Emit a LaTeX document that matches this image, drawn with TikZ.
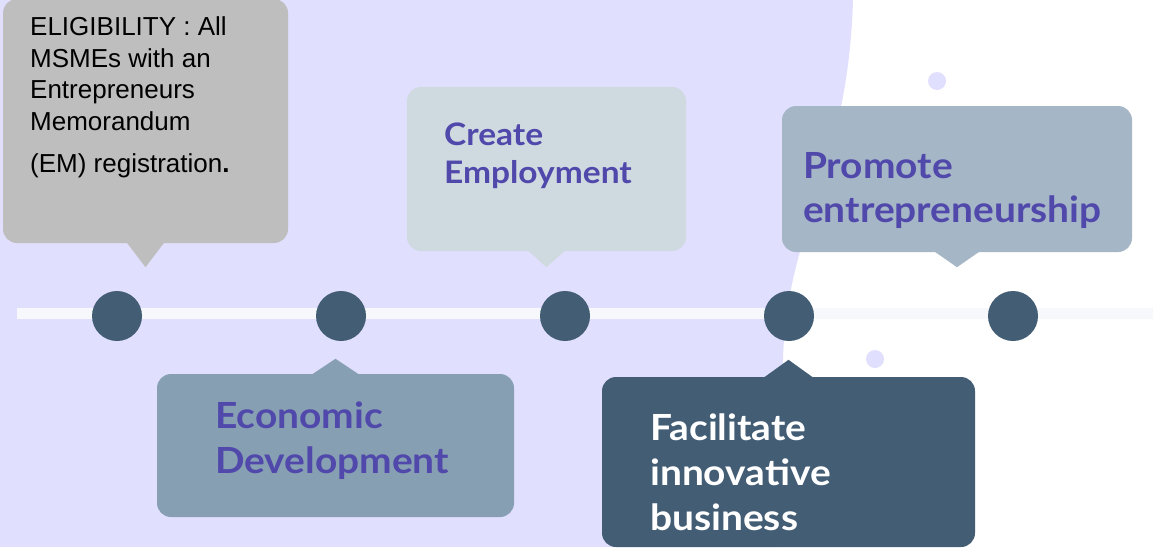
\documentclass[tikz,border=0pt]{standalone}
\usepackage{fontspec}
\setmainfont{Liberation Sans}
\newfontfamily\goalfont{Lato}[FakeStretch=1.08]
\usepackage{tikz}

\definecolor{blob}{HTML}{E0DFFE}
\definecolor{trackcol}{HTML}{F7F8FC}
\definecolor{dotcol}{HTML}{425D74}
\definecolor{goalcol}{HTML}{5048AA}
\definecolor{greybox}{HTML}{BEBEBE}
\definecolor{econbox}{HTML}{879FB3}
\definecolor{jobbox}{HTML}{CFD9E0}
\definecolor{innobox}{HTML}{435D75}
\definecolor{entrebox}{HTML}{A5B6C7}

\begin{document}
\begin{tikzpicture}[x=1pt, y=-1pt, every node/.style={inner sep=0pt},
    dot/.style={circle, fill=dotcol, minimum size=50pt},
    bubble/.style={circle, fill=blob, minimum size=18pt},
    card/.style={rounded corners=14pt, minimum width=#1},
    goal/.style={anchor=base west, align=left, text=goalcol, font=\goalfont\bfseries}]
    \useasboundingbox (0,0) rectangle (1153,547);
    \fill[white] (0,0) rectangle (1153,547);
    \fill[blob] (0,0) -- (853,0) .. controls (848,170) and (786,230) .. (783,360) -- (778,547) -- (0,547) -- cycle;

    % timeline
    \coordinate (start) at (17,313.5);
    \coordinate (end) at (1153,313.5);
    \draw[line width=11pt, trackcol] (start) -- (end);
    \node[bubble] (S1) at (937,81) {};
    \node[bubble] (S2) at (875,359) {};
    \foreach \i/\x in {1/117,2/341,3/565,4/789,5/1013} {
        \node[dot] (D\i) at (\x,316) {};
    }

    % cards
    \node[card=285pt, minimum height=244pt, fill=greybox] (B1) at (145.5,121) {};
    \node[card=357pt, minimum height=143pt, fill=econbox] (B2) at (335.5,445.5) {};
    \node[card=279pt, minimum height=164pt, fill=jobbox] (B3) at (546.5,169) {};
    \node[card=373pt, minimum height=170pt, fill=innobox] (B4) at (788.5,462) {};
    \node[card=350pt, minimum height=146pt, fill=entrebox] (B5) at (957,179) {};

    \fill[greybox] (B1.south) ++(-19,-1) -- ++(19,25) -- ++(19,-25) -- cycle;
    \fill[jobbox] (B3.south) ++(-19,-1) -- ++(19,17) -- ++(19,-17) -- cycle;
    \fill[entrebox] (B5.south) ++(-23,-1) -- ++(23,16) -- ++(23,-16) -- cycle;
    \fill[econbox] (B2.north) ++(-24,1) -- ++(24,-16) -- ++(24,16) -- cycle;
    \fill[innobox] (B4.north) ++(-25,1) -- ++(25,-18) -- ++(25,18) -- cycle;

    % texts (base = last line)
    \node[anchor=base west, align=left, font=\fontsize{26}{31.5}\selectfont] (T1) at (30,172)
        {ELIGIBILITY : All\\MSMEs with an\\Entrepreneurs\\Memorandum\\[10.5pt](EM) registration{\bfseries .}};
    \node[goal, font=\goalfont\bfseries\fontsize{36}{45}\selectfont] (T2) at (215,473) {Economic\\Development};
    \node[goal, font=\goalfont\bfseries\fontsize{31}{38}\selectfont] (T3) at (444,183) {Create\\Employment};
    \node[goal, text=white, font=\goalfont\bfseries\fontsize{36}{45}\selectfont] (T4) at (650,530) {Facilitate\\innovative\\business};
    \node[goal, font=\goalfont\bfseries\fontsize{36}{44}\selectfont] (T5) at (803,222) {Promote\\entrepreneurship};
\end{tikzpicture}
\end{document}
